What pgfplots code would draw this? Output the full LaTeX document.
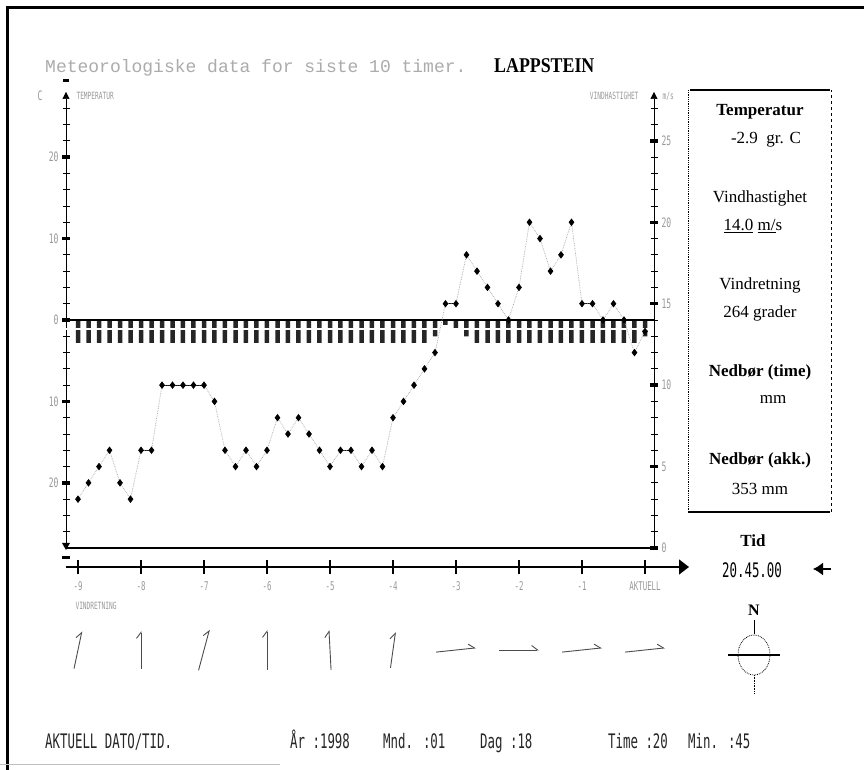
\documentclass[border=0pt]{standalone}
\usepackage{fontspec}
\setmainfont{Liberation Serif}
\newfontfamily\titlefont{Liberation Mono}
\newfontfamily\cond[FakeStretch=0.62]{DejaVu Sans Mono}
\newfontfamily\lapp[FakeStretch=0.85]{Liberation Serif}
\usepackage{pgfplots}
\usepackage{pgfplotstable}
\pgfplotsset{compat=1.18}
\usetikzlibrary{arrows.meta}

% i = 10-minute step since hour -9; temp = deg C (bars), wind = m/s (points)
\pgfplotstableread{
i temp wind
0 -2.8 3
1 -2.8 4
2 -2.8 5
3 -2.8 6
4 -2.8 4
5 -2.8 3
6 -2.8 6
7 -2.8 6
8 -2.8 10
9 -2.8 10
10 -2.8 10
11 -2.8 10
12 -2.8 10
13 -2.8 9
14 -2.8 6
15 -2.8 5
16 -2.8 6
17 -2.8 5
18 -2.8 6
19 -2.8 8
20 -2.8 7
21 -2.8 8
22 -2.8 7
23 -2.8 6
24 -2.8 5
25 -2.8 6
26 -2.8 6
27 -2.8 5
28 -2.8 6
29 -2.8 5
30 -2.8 8
31 -2.8 9
32 -2.8 10
33 -2.8 11
34 -2.0 12
35 -0.6 15
36 -1.0 15
37 -2.0 18
38 -2.8 17
39 -2.8 16
40 -2.8 15
41 -2.8 14
42 -2.8 16
43 -2.8 20
44 -2.8 19
45 -2.8 17
46 -2.8 18
47 -2.8 20
48 -2.8 15
49 -2.8 15
50 -2.8 14
51 -2.8 15
52 -2.8 14
53 -2.8 12
54 -2.0 13.3
}\meteo

% wind direction arrows: tail (x in hours, y in px), vector (u in hours, v in px)
\pgfplotstableread{
x y u v
-9.063 -18.6 0.125 37.2
-8 -19 0 38
-7.0865 -20.3 0.173 40.6
-6 -20 0 40
-4.9833 -19.95 -0.033 39.9
-4.0397 -17.8 0.079 35.6
-3.316 -2.1 0.632 4.2
-2.3175 0 0.635 0
-1.316 -2.1 0.632 4.2
-0.316 -2.1 0.632 4.2
}\vindretning

\begin{document}
\begin{tikzpicture}[x=1pt,y=1pt]
\useasboundingbox (0pt,0pt) rectangle (864pt,770pt);
\fill[white] (0pt,0pt) rectangle (864pt,770pt);
% frame
\draw[line width=3pt] (7pt,0pt) -- (7pt,762pt) -- (864pt,762pt);
\draw[gray!50, line width=1pt] (0pt,5pt) -- (280pt,5pt);

% title
\node[anchor=base west, inner sep=0, text=gray!65, font=\titlefont\fontsize{18}{18}\selectfont] at (45pt,697pt) {Meteorologiske data for siste 10 timer.};
\node[anchor=base west, inner sep=0, font=\lapp\bfseries\fontsize{21}{21}\selectfont] at (494pt,697pt) {LAPPSTEIN};

% ---------- temperature axis (left) ----------
\begin{axis}[
  at={(66pt,222pt)}, anchor=south west, scale only axis,
  width=588pt, height=456pt,
  xmin=-9.1905, xmax=0.1429, ymin=-28, ymax=28,
  axis x line=none, axis y line*=left, xtick=\empty,
  y axis line style={line width=0.6pt, -{Triangle[length=7pt,width=7pt]}},
  ytick={-20,-10,0,10,20}, yticklabels={20,10,0,10,20},
  minor ytick={-26,-24,...,26},
  tick align=center, major tick length=8pt, minor tick length=7pt,
  major tick style={line width=3.5pt, black},
  minor tick style={line width=0.8pt, black},
  yticklabel style={font=\cond\fontsize{13}{13}\selectfont, text=gray!80},
  clip=false,
]
\addplot[ybar, bar width=4.5pt, fill=black!85, draw=none]
  table[x expr={-9+\thisrow{i}/6}, y=temp] {\meteo};
\draw[white, line width=1.6pt] (axis cs:-9.1905,-1.1) -- (axis cs:0.1429,-1.1);
\draw[line width=1.8pt] (axis cs:-9.1905,0) -- (axis cs:0.1429,0);
\draw[line width=1.3pt] (axis cs:-9.1905,-28) -- (axis cs:0.1429,-28);
\end{axis}

% ---------- wind speed axis (right) ----------
\begin{axis}[
  at={(66pt,222pt)}, anchor=south west, scale only axis,
  width=588pt, height=456pt,
  xmin=-9.1905, xmax=0.1429, ymin=0, ymax=28,
  axis x line=none, axis y line*=right, xtick=\empty,
  y axis line style={line width=0.6pt, -{Triangle[length=7pt,width=7pt]}},
  ytick={0,5,10,15,20,25}, yticklabels={0,5,10,15,20,25},
  minor ytick={1,...,27},
  tick align=center, major tick length=8pt, minor tick length=7pt,
  major tick style={line width=3.5pt, black},
  minor tick style={line width=0.8pt, black},
  yticklabel style={font=\cond\fontsize{13}{13}\selectfont, text=gray!80},
  clip=false,
]
\addplot[black, line width=1pt] coordinates {(-8,6) (-7.8333,6)};
\addplot[black, line width=1pt] coordinates {(-7.6667,10) (-7.5,10) (-7.3333,10) (-7.1667,10) (-7,10)};
\addplot[black, line width=1pt] coordinates {(-4.8333,6) (-4.6667,6)};
\addplot[black, line width=1pt] coordinates {(-3.1667,15) (-3,15)};
\addplot[black, line width=1pt] coordinates {(-1,15) (-0.8333,15)};
\addplot[densely dotted, gray!70, line width=0.7pt, mark=diamond*, mark size=3.2pt,
  mark options={solid, fill=black, draw=black}]
  table[x expr={-9+\thisrow{i}/6}, y=wind] {\meteo};
\end{axis}

% ---------- time axis ----------
\begin{axis}[
  at={(66pt,203pt)}, anchor=south west, scale only axis,
  width=623pt, height=10pt,
  xmin=-9.1905, xmax=0.6984, ymin=0, ymax=1,
  axis y line=none, axis x line*=bottom, ytick=\empty,
  x axis line style={line width=1.2pt, -{Triangle[length=10pt,width=15pt]}},
  xtick={-9,-8,-7,-6,-5,-4,-3,-2,-1,0},
  xticklabels={-9,-8,-7,-6,-5,-4,-3,-2,-1,AKTUELL},
  tick align=center, major tick length=14pt,
  major tick style={line width=1.6pt, black},
  xticklabel style={font=\cond\fontsize{12}{12}\selectfont, text=gray!80, yshift=-4pt},
]
\end{axis}

% ---------- wind direction ----------
\begin{axis}[
  at={(66pt,80pt)}, anchor=south west, scale only axis,
  width=588pt, height=80pt,
  xmin=-9.1905, xmax=0.1429, ymin=-40, ymax=40,
  hide axis, clip=false,
]
\addplot[black!70, line width=0.9pt,
  quiver={u=\thisrow{u}, v=\thisrow{v},
    every arrow/.append style={-{Straight Barb[left,length=6pt,width=9pt]}}}]
  table[x=x, y=y] {\vindretning};
\end{axis}

% axis captions
\node[text=gray!80, font=\cond\fontsize{13}{13}\selectfont] at (40pt,674pt) {C};
\node[anchor=west, text=gray!80, font=\cond\fontsize{10}{10}\selectfont] at (73pt,674pt) {TEMPERATUR};
\node[anchor=east, text=gray!80, font=\cond\fontsize{10}{10}\selectfont] at (642pt,674pt) {VINDHASTIGHET};
\node[anchor=west, text=gray!80, font=\cond\fontsize{10}{10}\selectfont] at (659pt,674pt) {m/s};
\node[anchor=west, text=gray!80, font=\cond\fontsize{10}{10}\selectfont] at (72pt,164pt) {VINDRETNING};
\fill (66pt,220pt) -- ++(-4pt,7pt) -- ++(8pt,0pt) -- cycle;
\fill (62pt,211pt) rectangle (70pt,214pt);
\fill (63pt,688pt) rectangle (69pt,691pt);

% right info panel
\draw[line width=1.2pt] (690pt,680pt) -- (830pt,680pt);
\draw[line width=1.2pt] (688pt,258pt) -- (830pt,258pt);
\draw[densely dotted, line width=0.8pt] (688pt,258pt) -- (688pt,680pt);
\draw[dashed, line width=0.6pt] (831pt,258pt) -- (831pt,680pt);
\begin{scope}[every node/.style={font=\fontsize{17}{17}\selectfont}]
\node at (760pt,658pt) {\bfseries Temperatur};
\node at (766pt,630pt) {-2.9~~gr. C};
\node at (760pt,572pt) {Vindhastighet};
\node at (753pt,544pt) {\underline{14.0} \underline{m/}s};
\node at (760pt,485pt) {Vindretning};
\node at (760pt,457pt) {264 grader};
\node at (760pt,398pt) {\bfseries Nedbør (time)};
\node at (773pt,370pt) {mm};
\node at (760pt,310pt) {\bfseries Nedbør (akk.)};
\node at (760pt,281pt) {353 mm};
\node at (753pt,229pt) {\bfseries Tid};
\end{scope}
\node[font=\cond\fontsize{20}{20}\selectfont] at (752pt,200pt) {20.45.00};
\draw[line width=1.5pt, {Latex[length=10pt,width=13pt]}-] (813pt,201pt) -- (831pt,201pt);

% compass
\node[font=\bfseries\fontsize{16}{16}\selectfont] at (754pt,160pt) {N};
\draw[line width=0.8pt] (754pt,150pt) -- (754pt,136pt);
\draw[densely dotted, line width=0.8pt] (754pt,115pt) ellipse (16pt and 20pt);
\draw[line width=1.6pt] (728pt,115pt) -- (780pt,115pt);
\draw[densely dotted, line width=0.6pt] (754pt,95pt) -- (754pt,77pt);

% bottom line of text
\begin{scope}[every node/.style={anchor=base west, inner sep=0, text=black!85, font=\cond\fontsize{20}{20}\selectfont}]
\node at (45pt,21pt) {AKTUELL DATO/TID.};
\node at (290pt,21pt) {År :1998};
\node at (383pt,21pt) {Mnd. :01};
\node at (480pt,21pt) {Dag :18};
\node at (608pt,21pt) {Time :20};
\node at (688pt,21pt) {Min. :45};
\end{scope}
\end{tikzpicture}
\end{document}
